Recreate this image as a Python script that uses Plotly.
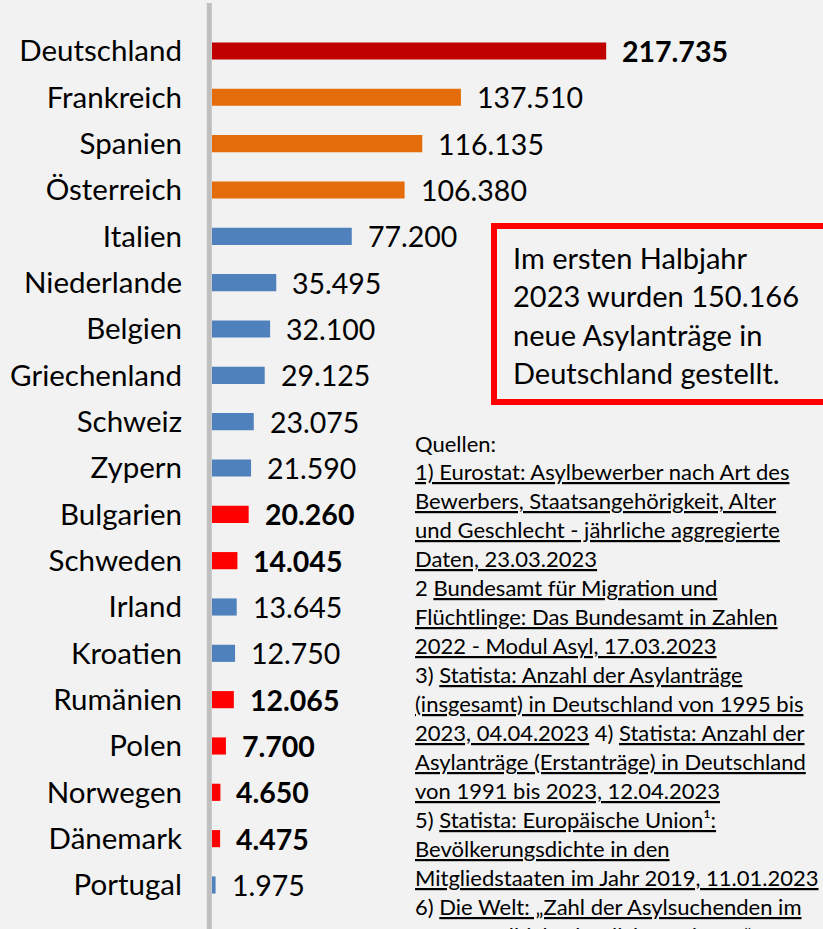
import plotly.graph_objects as go

# Asylum applications by country (values and highlight groups)
countries = ["Deutschland", "Frankreich", "Spanien", "Österreich", "Italien",
             "Niederlande", "Belgien", "Griechenland", "Schweiz", "Zypern",
             "Bulgarien", "Schweden", "Irland", "Kroatien", "Rumänien",
             "Polen", "Norwegen", "Dänemark", "Portugal"]
applications = [217735, 137510, 116135, 106380, 77200,
                35495, 32100, 29125, 23075, 21590,
                20260, 14045, 13645, 12750, 12065,
                7700, 4650, 4475, 1975]
groups = ["de", "top", "top", "top", "other",
          "other", "other", "other", "other", "other",
          "low", "low", "other", "other", "low",
          "low", "low", "low", "other"]

group_colors = {"de": "#C00000", "top": "#E46C0A", "other": "#4F81BD", "low": "#FF0000"}
bold_groups = {"de", "low"}

info_lines = ["Im ersten Halbjahr", "2023 wurden 150.166",
              "neue Asylanträge in", "Deutschland gestellt."]

U = '<span style="text-decoration:underline">{}</span>'
source_lines = [
    "Quellen:",
    U.format("1) Eurostat: Asylbewerber nach Art des"),
    U.format("Bewerbers, Staatsangehörigkeit, Alter"),
    U.format("und Geschlecht - jährliche aggregierte"),
    U.format("Daten, 23.03.2023"),
    "2 " + U.format("Bundesamt für Migration und"),
    U.format("Flüchtlinge: Das Bundesamt in Zahlen"),
    U.format("2022 - Modul Asyl, 17.03.2023"),
    "3) " + U.format("Statista: Anzahl der Asylanträge"),
    U.format("(insgesamt) in Deutschland von 1995 bis"),
    U.format("2023, 04.04.2023") + " 4) " + U.format("Statista: Anzahl der"),
    U.format("Asylanträge (Erstanträge) in Deutschland"),
    U.format("von 1991 bis 2023, 12.04.2023"),
    "5) " + U.format("Statista: Europäische Union¹:"),
    U.format("Bevölkerungsdichte in den"),
    U.format("Mitgliedstaaten im Jahr 2019, 11.01.2023"),
    "6) " + U.format("Die Welt: „Zahl der Asylsuchenden im"),
    U.format("ersten Halbjahr deutlich gestiegen“"),
]

W, H = 823, 929
L = 212
FONT = "Lato, 'Open Sans', sans-serif"


def px_x(p):
    return (p - L) / (W - L)


def px_y(p):
    return 1 - p / H


fig = go.Figure(go.Bar(
    x=applications,
    y=countries,
    orientation="h",
    marker=dict(color=[group_colors[g] for g in groups], line_width=0),
    width=0.37,
    hoverinfo="skip",
))

annotations = []
for c, v, g in zip(countries, applications, groups):
    label = f"{v:,}".replace(",", ".")
    if g in bold_groups:
        label = f"<b>{label}</b>"
    annotations.append(dict(
        x=v, y=c, xref="x", yref="y", text=label, showarrow=False,
        xanchor="left", yanchor="middle", xshift=14,
        font=dict(family=FONT, size=28.5, color="#000000"),
    ))

# Highlight box text
for i, line in enumerate(info_lines):
    annotations.append(dict(
        x=px_x(511), y=px_y(257 + i * 38.5), xref="paper", yref="paper",
        text=line, showarrow=False, xanchor="left", yanchor="middle",
        font=dict(family=FONT, size=29, color="#000000"),
    ))

# Source list
for i, line in enumerate(source_lines):
    annotations.append(dict(
        x=px_x(413), y=px_y(443 + i * 28.95), xref="paper", yref="paper",
        text=line, showarrow=False, xanchor="left", yanchor="middle",
        font=dict(family=FONT, size=22, color="#000000"),
    ))

shapes = [
    # vertical category axis line
    dict(type="line", xref="paper", yref="paper",
         x0=px_x(209.3), x1=px_x(209.3), y0=px_y(3), y1=px_y(H + 5),
         line=dict(color="#BFBFBF", width=5), layer="above"),
    # red info box
    dict(type="rect", xref="paper", yref="paper",
         x0=px_x(494), x1=px_x(W + 10), y0=px_y(226), y1=px_y(402),
         line=dict(color="#FF0000", width=6), fillcolor="rgba(0,0,0,0)"),
]

fig.update_layout(
    width=W, height=H,
    margin=dict(l=L, r=0, t=0, b=0),
    paper_bgcolor="#F2F2F2",
    plot_bgcolor="#F2F2F2",
    showlegend=False,
    xaxis=dict(range=[0, 337500], visible=False, fixedrange=True),
    yaxis=dict(
        range=[18.95, -1.1], type="category",
        showgrid=False, zeroline=False, showline=False, ticks="",
        ticklabelstandoff=29,
        tickfont=dict(family=FONT, size=29.5, color="#000000"),
        fixedrange=True,
    ),
    annotations=annotations,
    shapes=shapes,
)

fig.write_html("out.html")
